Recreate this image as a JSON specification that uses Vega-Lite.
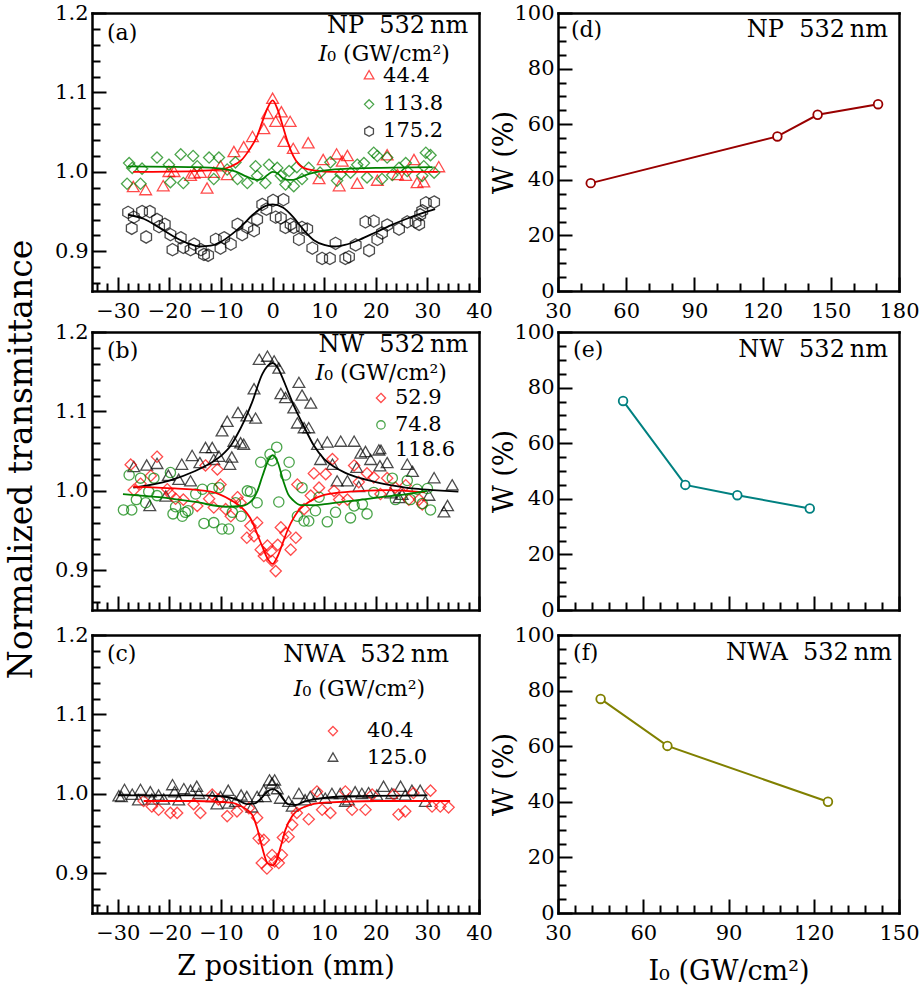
{
"$schema":"https://vega.github.io/schema/vega-lite/v6.json",
"padding":{"left":4,"top":2,"right":5,"bottom":5},
"background":"white",
"columns":2,
"spacing":{"row":25,"column":79},
"bounds":"flush",
"align":"each",
"datasets":{
"pts":[
{"p":"a","s":"44.4","z":-27.0,"t":0.980},{"p":"a","s":"44.4","z":-24.6,"t":0.976},{"p":"a","s":"44.4","z":-21.2,"t":0.981},{"p":"a","s":"44.4","z":-20.1,"t":0.999},{"p":"a","s":"44.4","z":-19.1,"t":0.999},{"p":"a","s":"44.4","z":-15.9,"t":0.994},{"p":"a","s":"44.4","z":-15.2,"t":0.997},{"p":"a","s":"44.4","z":-14.0,"t":0.998},{"p":"a","s":"44.4","z":-12.7,"t":0.978},{"p":"a","s":"44.4","z":-11.4,"t":0.998},{"p":"a","s":"44.4","z":-10.1,"t":1.006},{"p":"a","s":"44.4","z":-8.8,"t":0.995},{"p":"a","s":"44.4","z":-7.5,"t":1.024},{"p":"a","s":"44.4","z":-5.6,"t":1.030},{"p":"a","s":"44.4","z":-3.9,"t":1.043},{"p":"a","s":"44.4","z":-1.7,"t":1.053},{"p":"a","s":"44.4","z":-1.0,"t":1.072},{"p":"a","s":"44.4","z":0.0,"t":1.091},{"p":"a","s":"44.4","z":0.6,"t":1.062},{"p":"a","s":"44.4","z":1.7,"t":1.074},{"p":"a","s":"44.4","z":2.2,"t":1.037},{"p":"a","s":"44.4","z":3.4,"t":1.062},{"p":"a","s":"44.4","z":4.0,"t":1.028},{"p":"a","s":"44.4","z":6.9,"t":1.035},{"p":"a","s":"44.4","z":9.0,"t":0.990},{"p":"a","s":"44.4","z":9.8,"t":1.014},{"p":"a","s":"44.4","z":12.4,"t":1.021},{"p":"a","s":"44.4","z":12.9,"t":0.981},{"p":"a","s":"44.4","z":13.5,"t":1.012},{"p":"a","s":"44.4","z":14.5,"t":1.019},{"p":"a","s":"44.4","z":16.4,"t":0.984},{"p":"a","s":"44.4","z":20.3,"t":0.988},{"p":"a","s":"44.4","z":22.2,"t":1.020},{"p":"a","s":"44.4","z":24.2,"t":0.995},{"p":"a","s":"44.4","z":25.8,"t":0.994},{"p":"a","s":"44.4","z":27.4,"t":1.014},{"p":"a","s":"44.4","z":28.0,"t":0.985},{"p":"a","s":"44.4","z":29.3,"t":0.986},{"p":"a","s":"44.4","z":32.2,"t":1.005},
{"p":"a","s":"113.8","z":-28.2,"t":0.985},{"p":"a","s":"113.8","z":-27.8,"t":1.011},{"p":"a","s":"113.8","z":-27.2,"t":1.005},{"p":"a","s":"113.8","z":-25.6,"t":0.985},{"p":"a","s":"113.8","z":-25.3,"t":1.004},{"p":"a","s":"113.8","z":-22.4,"t":1.018},{"p":"a","s":"113.8","z":-20.1,"t":1.009},{"p":"a","s":"113.8","z":-19.8,"t":0.987},{"p":"a","s":"113.8","z":-17.8,"t":1.022},{"p":"a","s":"113.8","z":-17.3,"t":0.986},{"p":"a","s":"113.8","z":-15.4,"t":1.020},{"p":"a","s":"113.8","z":-14.6,"t":1.007},{"p":"a","s":"113.8","z":-12.3,"t":1.018},{"p":"a","s":"113.8","z":-11.4,"t":0.991},{"p":"a","s":"113.8","z":-10.4,"t":1.018},{"p":"a","s":"113.8","z":-8.8,"t":1.003},{"p":"a","s":"113.8","z":-7.2,"t":1.012},{"p":"a","s":"113.8","z":-6.8,"t":0.991},{"p":"a","s":"113.8","z":-4.9,"t":0.986},{"p":"a","s":"113.8","z":-3.3,"t":1.007},{"p":"a","s":"113.8","z":-3.0,"t":0.995},{"p":"a","s":"113.8","z":-1.4,"t":0.986},{"p":"a","s":"113.8","z":-0.7,"t":1.009},{"p":"a","s":"113.8","z":0.9,"t":1.005},{"p":"a","s":"113.8","z":1.6,"t":0.995},{"p":"a","s":"113.8","z":2.5,"t":0.984},{"p":"a","s":"113.8","z":3.2,"t":1.001},{"p":"a","s":"113.8","z":4.1,"t":0.982},{"p":"a","s":"113.8","z":4.7,"t":1.006},{"p":"a","s":"113.8","z":5.7,"t":0.991},{"p":"a","s":"113.8","z":7.0,"t":1.005},{"p":"a","s":"113.8","z":9.2,"t":0.999},{"p":"a","s":"113.8","z":11.2,"t":1.012},{"p":"a","s":"113.8","z":12.5,"t":0.989},{"p":"a","s":"113.8","z":13.2,"t":0.997},{"p":"a","s":"113.8","z":15.1,"t":0.999},{"p":"a","s":"113.8","z":16.4,"t":1.009},{"p":"a","s":"113.8","z":17.7,"t":1.011},{"p":"a","s":"113.8","z":18.3,"t":0.993},{"p":"a","s":"113.8","z":19.6,"t":1.024},{"p":"a","s":"113.8","z":20.3,"t":1.020},{"p":"a","s":"113.8","z":21.2,"t":0.991},{"p":"a","s":"113.8","z":22.2,"t":1.018},{"p":"a","s":"113.8","z":23.2,"t":0.996},{"p":"a","s":"113.8","z":24.5,"t":1.005},{"p":"a","s":"113.8","z":25.8,"t":1.011},{"p":"a","s":"113.8","z":26.1,"t":1.001},{"p":"a","s":"113.8","z":29.0,"t":0.995},{"p":"a","s":"113.8","z":29.3,"t":1.007},{"p":"a","s":"113.8","z":29.7,"t":1.024},{"p":"a","s":"113.8","z":30.6,"t":1.021},{"p":"a","s":"113.8","z":31.3,"t":0.999},
{"p":"a","s":"175.2","z":-28.0,"t":0.949},{"p":"a","s":"175.2","z":-27.3,"t":0.929},{"p":"a","s":"175.2","z":-26.9,"t":0.943},{"p":"a","s":"175.2","z":-25.3,"t":0.950},{"p":"a","s":"175.2","z":-24.5,"t":0.918},{"p":"a","s":"175.2","z":-23.8,"t":0.950},{"p":"a","s":"175.2","z":-22.4,"t":0.940},{"p":"a","s":"175.2","z":-22.0,"t":0.931},{"p":"a","s":"175.2","z":-20.9,"t":0.934},{"p":"a","s":"175.2","z":-19.8,"t":0.921},{"p":"a","s":"175.2","z":-19.4,"t":0.902},{"p":"a","s":"175.2","z":-17.8,"t":0.917},{"p":"a","s":"175.2","z":-17.3,"t":0.905},{"p":"a","s":"175.2","z":-15.9,"t":0.902},{"p":"a","s":"175.2","z":-15.2,"t":0.909},{"p":"a","s":"175.2","z":-13.9,"t":0.902},{"p":"a","s":"175.2","z":-13.3,"t":0.896},{"p":"a","s":"175.2","z":-12.5,"t":0.895},{"p":"a","s":"175.2","z":-11.0,"t":0.915},{"p":"a","s":"175.2","z":-10.1,"t":0.904},{"p":"a","s":"175.2","z":-9.4,"t":0.917},{"p":"a","s":"175.2","z":-8.1,"t":0.909},{"p":"a","s":"175.2","z":-6.8,"t":0.934},{"p":"a","s":"175.2","z":-5.9,"t":0.921},{"p":"a","s":"175.2","z":-4.9,"t":0.930},{"p":"a","s":"175.2","z":-3.6,"t":0.926},{"p":"a","s":"175.2","z":-3.0,"t":0.940},{"p":"a","s":"175.2","z":-2.0,"t":0.959},{"p":"a","s":"175.2","z":-1.2,"t":0.953},{"p":"a","s":"175.2","z":0.1,"t":0.964},{"p":"a","s":"175.2","z":0.6,"t":0.943},{"p":"a","s":"175.2","z":1.6,"t":0.942},{"p":"a","s":"175.2","z":2.1,"t":0.965},{"p":"a","s":"175.2","z":2.5,"t":0.930},{"p":"a","s":"175.2","z":3.5,"t":0.934},{"p":"a","s":"175.2","z":4.1,"t":0.930},{"p":"a","s":"175.2","z":5.1,"t":0.915},{"p":"a","s":"175.2","z":5.7,"t":0.930},{"p":"a","s":"175.2","z":6.7,"t":0.928},{"p":"a","s":"175.2","z":7.7,"t":0.904},{"p":"a","s":"175.2","z":9.6,"t":0.891},{"p":"a","s":"175.2","z":11.1,"t":0.891},{"p":"a","s":"175.2","z":12.2,"t":0.910},{"p":"a","s":"175.2","z":14.1,"t":0.891},{"p":"a","s":"175.2","z":14.8,"t":0.893},{"p":"a","s":"175.2","z":16.1,"t":0.908},{"p":"a","s":"175.2","z":18.0,"t":0.937},{"p":"a","s":"175.2","z":18.7,"t":0.901},{"p":"a","s":"175.2","z":19.6,"t":0.938},{"p":"a","s":"175.2","z":20.3,"t":0.915},{"p":"a","s":"175.2","z":21.2,"t":0.923},{"p":"a","s":"175.2","z":22.2,"t":0.933},{"p":"a","s":"175.2","z":24.5,"t":0.928},{"p":"a","s":"175.2","z":26.1,"t":0.937},{"p":"a","s":"175.2","z":27.7,"t":0.937},{"p":"a","s":"175.2","z":28.4,"t":0.934},{"p":"a","s":"175.2","z":28.6,"t":0.946},{"p":"a","s":"175.2","z":29.0,"t":0.951},{"p":"a","s":"175.2","z":29.7,"t":0.961},{"p":"a","s":"175.2","z":31.3,"t":0.962},
{"p":"b","s":"118.6","z":-26.9,"t":1.029},{"p":"b","s":"118.6","z":-24.4,"t":1.031},{"p":"b","s":"118.6","z":-23.8,"t":0.980},{"p":"b","s":"118.6","z":-22.4,"t":1.033},{"p":"b","s":"118.6","z":-20.7,"t":0.992},{"p":"b","s":"118.6","z":-20.2,"t":1.018},{"p":"b","s":"118.6","z":-18.2,"t":1.013},{"p":"b","s":"118.6","z":-17.6,"t":1.032},{"p":"b","s":"118.6","z":-15.9,"t":1.011},{"p":"b","s":"118.6","z":-15.6,"t":1.043},{"p":"b","s":"118.6","z":-14.1,"t":1.034},{"p":"b","s":"118.6","z":-13.0,"t":1.053},{"p":"b","s":"118.6","z":-11.7,"t":1.053},{"p":"b","s":"118.6","z":-11.4,"t":1.038},{"p":"b","s":"118.6","z":-10.4,"t":1.042},{"p":"b","s":"118.6","z":-9.8,"t":1.074},{"p":"b","s":"118.6","z":-8.8,"t":1.086},{"p":"b","s":"118.6","z":-8.3,"t":1.032},{"p":"b","s":"118.6","z":-7.9,"t":1.041},{"p":"b","s":"118.6","z":-7.5,"t":1.061},{"p":"b","s":"118.6","z":-6.7,"t":1.097},{"p":"b","s":"118.6","z":-6.2,"t":1.059},{"p":"b","s":"118.6","z":-5.6,"t":1.057},{"p":"b","s":"118.6","z":-5.0,"t":1.093},{"p":"b","s":"118.6","z":-3.3,"t":1.090},{"p":"b","s":"118.6","z":-3.6,"t":1.127},{"p":"b","s":"118.6","z":-2.6,"t":1.164},{"p":"b","s":"118.6","z":-1.0,"t":1.168},{"p":"b","s":"118.6","z":0.3,"t":1.162},{"p":"b","s":"118.6","z":1.2,"t":1.153},{"p":"b","s":"118.6","z":1.6,"t":1.121},{"p":"b","s":"118.6","z":2.5,"t":1.116},{"p":"b","s":"118.6","z":4.1,"t":1.103},{"p":"b","s":"118.6","z":4.8,"t":1.084},{"p":"b","s":"118.6","z":5.1,"t":1.135},{"p":"b","s":"118.6","z":5.7,"t":1.119},{"p":"b","s":"118.6","z":6.1,"t":1.078},{"p":"b","s":"118.6","z":7.0,"t":1.078},{"p":"b","s":"118.6","z":7.4,"t":1.109},{"p":"b","s":"118.6","z":8.7,"t":1.057},{"p":"b","s":"118.6","z":9.3,"t":1.038},{"p":"b","s":"118.6","z":10.6,"t":1.060},{"p":"b","s":"118.6","z":11.6,"t":1.032},{"p":"b","s":"118.6","z":12.5,"t":1.011},{"p":"b","s":"118.6","z":13.2,"t":1.061},{"p":"b","s":"118.6","z":14.5,"t":1.011},{"p":"b","s":"118.6","z":15.8,"t":1.061},{"p":"b","s":"118.6","z":16.3,"t":1.028},{"p":"b","s":"118.6","z":16.7,"t":1.004},{"p":"b","s":"118.6","z":17.1,"t":1.046},{"p":"b","s":"118.6","z":18.0,"t":1.048},{"p":"b","s":"118.6","z":19.0,"t":1.038},{"p":"b","s":"118.6","z":20.6,"t":1.050},{"p":"b","s":"118.6","z":20.8,"t":1.030},{"p":"b","s":"118.6","z":22.2,"t":1.034},{"p":"b","s":"118.6","z":22.9,"t":0.996},{"p":"b","s":"118.6","z":24.5,"t":0.990},{"p":"b","s":"118.6","z":25.1,"t":0.994},{"p":"b","s":"118.6","z":26.1,"t":1.032},{"p":"b","s":"118.6","z":27.1,"t":1.023},{"p":"b","s":"118.6","z":30.3,"t":0.993},{"p":"b","s":"118.6","z":31.3,"t":1.015},{"p":"b","s":"118.6","z":33.2,"t":0.972},{"p":"b","s":"118.6","z":33.9,"t":0.980},{"p":"b","s":"118.6","z":34.8,"t":1.006},
{"p":"b","s":"52.9","z":-27.5,"t":1.033},{"p":"b","s":"52.9","z":-26.9,"t":1.001},{"p":"b","s":"52.9","z":-25.6,"t":1.009},{"p":"b","s":"52.9","z":-23.6,"t":1.019},{"p":"b","s":"52.9","z":-22.4,"t":1.043},{"p":"b","s":"52.9","z":-20.4,"t":1.002},{"p":"b","s":"52.9","z":-19.8,"t":0.996},{"p":"b","s":"52.9","z":-18.8,"t":0.990},{"p":"b","s":"52.9","z":-17.3,"t":0.989},{"p":"b","s":"52.9","z":-14.6,"t":0.981},{"p":"b","s":"52.9","z":-13.0,"t":1.032},{"p":"b","s":"52.9","z":-12.3,"t":0.990},{"p":"b","s":"52.9","z":-11.4,"t":0.979},{"p":"b","s":"52.9","z":-10.7,"t":1.027},{"p":"b","s":"52.9","z":-10.1,"t":1.008},{"p":"b","s":"52.9","z":-9.1,"t":0.977},{"p":"b","s":"52.9","z":-8.1,"t":0.968},{"p":"b","s":"52.9","z":-6.8,"t":0.992},{"p":"b","s":"52.9","z":-6.2,"t":0.985},{"p":"b","s":"52.9","z":-5.0,"t":0.941},{"p":"b","s":"52.9","z":-4.3,"t":0.956},{"p":"b","s":"52.9","z":-3.6,"t":0.943},{"p":"b","s":"52.9","z":-3.0,"t":0.960},{"p":"b","s":"52.9","z":-2.3,"t":0.926},{"p":"b","s":"52.9","z":-1.7,"t":0.918},{"p":"b","s":"52.9","z":-1.0,"t":0.931},{"p":"b","s":"52.9","z":-0.3,"t":0.924},{"p":"b","s":"52.9","z":-0.1,"t":0.912},{"p":"b","s":"52.9","z":0.6,"t":0.899},{"p":"b","s":"52.9","z":1.0,"t":0.932},{"p":"b","s":"52.9","z":1.6,"t":0.954},{"p":"b","s":"52.9","z":2.5,"t":0.947},{"p":"b","s":"52.9","z":3.5,"t":0.926},{"p":"b","s":"52.9","z":4.5,"t":0.941},{"p":"b","s":"52.9","z":4.8,"t":1.008},{"p":"b","s":"52.9","z":6.1,"t":0.977},{"p":"b","s":"52.9","z":7.4,"t":0.994},{"p":"b","s":"52.9","z":8.0,"t":1.022},{"p":"b","s":"52.9","z":9.0,"t":1.004},{"p":"b","s":"52.9","z":10.3,"t":1.021},{"p":"b","s":"52.9","z":11.6,"t":1.040},{"p":"b","s":"52.9","z":11.9,"t":1.000},{"p":"b","s":"52.9","z":12.9,"t":0.989},{"p":"b","s":"52.9","z":14.5,"t":0.989},{"p":"b","s":"52.9","z":15.8,"t":1.032},{"p":"b","s":"52.9","z":16.7,"t":1.011},{"p":"b","s":"52.9","z":18.3,"t":1.022},{"p":"b","s":"52.9","z":19.6,"t":1.017},{"p":"b","s":"52.9","z":20.9,"t":0.996},{"p":"b","s":"52.9","z":22.2,"t":1.016},{"p":"b","s":"52.9","z":23.8,"t":1.004},{"p":"b","s":"52.9","z":25.8,"t":1.007},{"p":"b","s":"52.9","z":26.4,"t":0.989},{"p":"b","s":"52.9","z":28.4,"t":0.989},{"p":"b","s":"52.9","z":29.0,"t":0.983},
{"p":"b","s":"74.8","z":-28.9,"t":0.976},{"p":"b","s":"74.8","z":-27.8,"t":1.020},{"p":"b","s":"74.8","z":-27.3,"t":0.976},{"p":"b","s":"74.8","z":-26.4,"t":0.989},{"p":"b","s":"74.8","z":-25.6,"t":1.016},{"p":"b","s":"74.8","z":-24.6,"t":0.985},{"p":"b","s":"74.8","z":-24.0,"t":0.999},{"p":"b","s":"74.8","z":-23.0,"t":1.016},{"p":"b","s":"74.8","z":-22.4,"t":0.994},{"p":"b","s":"74.8","z":-19.8,"t":1.023},{"p":"b","s":"74.8","z":-19.3,"t":0.971},{"p":"b","s":"74.8","z":-18.8,"t":0.980},{"p":"b","s":"74.8","z":-17.5,"t":0.968},{"p":"b","s":"74.8","z":-16.9,"t":0.973},{"p":"b","s":"74.8","z":-16.4,"t":0.975},{"p":"b","s":"74.8","z":-14.9,"t":0.996},{"p":"b","s":"74.8","z":-13.6,"t":1.002},{"p":"b","s":"74.8","z":-13.3,"t":0.959},{"p":"b","s":"74.8","z":-11.7,"t":1.003},{"p":"b","s":"74.8","z":-11.4,"t":0.960},{"p":"b","s":"74.8","z":-10.4,"t":1.004},{"p":"b","s":"74.8","z":-9.8,"t":0.952},{"p":"b","s":"74.8","z":-8.5,"t":0.952},{"p":"b","s":"74.8","z":-7.8,"t":0.973},{"p":"b","s":"74.8","z":-7.2,"t":0.985},{"p":"b","s":"74.8","z":-6.1,"t":0.968},{"p":"b","s":"74.8","z":-4.9,"t":1.000},{"p":"b","s":"74.8","z":-4.3,"t":0.999},{"p":"b","s":"74.8","z":-3.0,"t":0.985},{"p":"b","s":"74.8","z":-2.3,"t":1.036},{"p":"b","s":"74.8","z":-0.5,"t":1.046},{"p":"b","s":"74.8","z":-0.1,"t":1.038},{"p":"b","s":"74.8","z":0.8,"t":1.055},{"p":"b","s":"74.8","z":1.2,"t":0.986},{"p":"b","s":"74.8","z":2.5,"t":1.020},{"p":"b","s":"74.8","z":3.2,"t":1.036},{"p":"b","s":"74.8","z":4.8,"t":0.968},{"p":"b","s":"74.8","z":5.7,"t":1.004},{"p":"b","s":"74.8","z":6.1,"t":0.962},{"p":"b","s":"74.8","z":7.0,"t":0.962},{"p":"b","s":"74.8","z":8.3,"t":0.975},{"p":"b","s":"74.8","z":9.0,"t":0.992},{"p":"b","s":"74.8","z":10.6,"t":0.961},{"p":"b","s":"74.8","z":12.2,"t":0.973},{"p":"b","s":"74.8","z":15.1,"t":0.966},{"p":"b","s":"74.8","z":15.8,"t":0.981},{"p":"b","s":"74.8","z":17.4,"t":0.983},{"p":"b","s":"74.8","z":18.3,"t":0.971},{"p":"b","s":"74.8","z":19.6,"t":0.998},{"p":"b","s":"74.8","z":23.2,"t":1.016},{"p":"b","s":"74.8","z":23.8,"t":0.989},{"p":"b","s":"74.8","z":26.1,"t":1.013},{"p":"b","s":"74.8","z":26.7,"t":0.989},{"p":"b","s":"74.8","z":28.0,"t":1.002},{"p":"b","s":"74.8","z":29.0,"t":0.984},{"p":"b","s":"74.8","z":30.0,"t":1.003},{"p":"b","s":"74.8","z":30.6,"t":0.976},
{"p":"c","s":"125.0","z":-29.8,"t":0.996},{"p":"c","s":"125.0","z":-28.7,"t":1.004},{"p":"c","s":"125.0","z":-29.3,"t":0.995},{"p":"c","s":"125.0","z":-27.2,"t":0.998},{"p":"c","s":"125.0","z":-26.0,"t":0.991},{"p":"c","s":"125.0","z":-25.6,"t":1.004},{"p":"c","s":"125.0","z":-23.7,"t":1.001},{"p":"c","s":"125.0","z":-23.4,"t":0.992},{"p":"c","s":"125.0","z":-22.1,"t":0.997},{"p":"c","s":"125.0","z":-21.1,"t":0.992},{"p":"c","s":"125.0","z":-19.4,"t":1.010},{"p":"c","s":"125.0","z":-19.0,"t":1.001},{"p":"c","s":"125.0","z":-18.2,"t":0.991},{"p":"c","s":"125.0","z":-17.2,"t":1.005},{"p":"c","s":"125.0","z":-15.9,"t":1.003},{"p":"c","s":"125.0","z":-14.7,"t":1.008},{"p":"c","s":"125.0","z":-14.3,"t":0.999},{"p":"c","s":"125.0","z":-11.7,"t":0.995},{"p":"c","s":"125.0","z":-10.8,"t":0.986},{"p":"c","s":"125.0","z":-10.1,"t":0.995},{"p":"c","s":"125.0","z":-8.6,"t":1.003},{"p":"c","s":"125.0","z":-8.5,"t":0.987},{"p":"c","s":"125.0","z":-7.2,"t":0.989},{"p":"c","s":"125.0","z":-6.1,"t":0.997},{"p":"c","s":"125.0","z":-5.0,"t":0.995},{"p":"c","s":"125.0","z":-4.0,"t":0.982},{"p":"c","s":"125.0","z":-3.0,"t":0.995},{"p":"c","s":"125.0","z":-1.7,"t":1.003},{"p":"c","s":"125.0","z":-1.4,"t":0.995},{"p":"c","s":"125.0","z":-0.6,"t":1.016},{"p":"c","s":"125.0","z":-0.1,"t":1.012},{"p":"c","s":"125.0","z":0.4,"t":1.016},{"p":"c","s":"125.0","z":0.9,"t":1.005},{"p":"c","s":"125.0","z":1.5,"t":0.993},{"p":"c","s":"125.0","z":3.1,"t":0.989},{"p":"c","s":"125.0","z":3.8,"t":0.983},{"p":"c","s":"125.0","z":5.1,"t":0.999},{"p":"c","s":"125.0","z":6.3,"t":0.991},{"p":"c","s":"125.0","z":7.3,"t":0.995},{"p":"c","s":"125.0","z":8.9,"t":0.999},{"p":"c","s":"125.0","z":10.2,"t":0.993},{"p":"c","s":"125.0","z":11.5,"t":0.999},{"p":"c","s":"125.0","z":13.1,"t":0.999},{"p":"c","s":"125.0","z":14.1,"t":0.989},{"p":"c","s":"125.0","z":14.7,"t":0.991},{"p":"c","s":"125.0","z":16.0,"t":1.001},{"p":"c","s":"125.0","z":17.3,"t":0.999},{"p":"c","s":"125.0","z":18.6,"t":1.000},{"p":"c","s":"125.0","z":20.2,"t":0.997},{"p":"c","s":"125.0","z":21.5,"t":1.008},{"p":"c","s":"125.0","z":23.1,"t":0.999},{"p":"c","s":"125.0","z":24.8,"t":1.008},{"p":"c","s":"125.0","z":25.7,"t":0.997},{"p":"c","s":"125.0","z":27.0,"t":1.003},{"p":"c","s":"125.0","z":28.6,"t":1.003},{"p":"c","s":"125.0","z":29.6,"t":0.989},
{"p":"c","s":"40.4","z":-25.0,"t":0.991},{"p":"c","s":"40.4","z":-23.4,"t":0.984},{"p":"c","s":"40.4","z":-22.1,"t":0.980},{"p":"c","s":"40.4","z":-19.8,"t":0.976},{"p":"c","s":"40.4","z":-18.5,"t":0.976},{"p":"c","s":"40.4","z":-15.3,"t":0.987},{"p":"c","s":"40.4","z":-14.0,"t":0.976},{"p":"c","s":"40.4","z":-11.7,"t":0.999},{"p":"c","s":"40.4","z":-10.5,"t":0.993},{"p":"c","s":"40.4","z":-8.8,"t":0.972},{"p":"c","s":"40.4","z":-6.9,"t":0.978},{"p":"c","s":"40.4","z":-4.6,"t":0.982},{"p":"c","s":"40.4","z":-3.0,"t":0.970},{"p":"c","s":"40.4","z":-2.7,"t":0.944},{"p":"c","s":"40.4","z":-1.7,"t":0.942},{"p":"c","s":"40.4","z":-2.1,"t":0.913},{"p":"c","s":"40.4","z":-1.1,"t":0.906},{"p":"c","s":"40.4","z":-0.1,"t":0.923},{"p":"c","s":"40.4","z":0.4,"t":0.915},{"p":"c","s":"40.4","z":1.2,"t":0.913},{"p":"c","s":"40.4","z":1.8,"t":0.923},{"p":"c","s":"40.4","z":2.0,"t":0.945},{"p":"c","s":"40.4","z":3.1,"t":0.946},{"p":"c","s":"40.4","z":3.8,"t":0.961},{"p":"c","s":"40.4","z":4.7,"t":0.976},{"p":"c","s":"40.4","z":7.0,"t":0.968},{"p":"c","s":"40.4","z":8.6,"t":1.003},{"p":"c","s":"40.4","z":9.6,"t":0.980},{"p":"c","s":"40.4","z":11.2,"t":0.976},{"p":"c","s":"40.4","z":14.1,"t":1.003},{"p":"c","s":"40.4","z":15.4,"t":0.980},{"p":"c","s":"40.4","z":18.0,"t":0.980},{"p":"c","s":"40.4","z":19.3,"t":0.999},{"p":"c","s":"40.4","z":23.5,"t":0.999},{"p":"c","s":"40.4","z":24.4,"t":0.974},{"p":"c","s":"40.4","z":25.7,"t":0.978},{"p":"c","s":"40.4","z":27.3,"t":1.001},{"p":"c","s":"40.4","z":30.6,"t":1.004},{"p":"c","s":"40.4","z":30.9,"t":0.984},{"p":"c","s":"40.4","z":32.5,"t":0.984},{"p":"c","s":"40.4","z":34.1,"t":0.983}
],
"fit":[
{"p":"a","s":"44.4","z":-27,"t":1.000},{"p":"a","s":"44.4","z":-15,"t":1.001},{"p":"a","s":"44.4","z":-10,"t":1.003},{"p":"a","s":"44.4","z":-8,"t":1.007},{"p":"a","s":"44.4","z":-6,"t":1.015},{"p":"a","s":"44.4","z":-4.5,"t":1.028},{"p":"a","s":"44.4","z":-3,"t":1.045},{"p":"a","s":"44.4","z":-2,"t":1.063},{"p":"a","s":"44.4","z":-1,"t":1.080},{"p":"a","s":"44.4","z":0,"t":1.090},{"p":"a","s":"44.4","z":1,"t":1.078},{"p":"a","s":"44.4","z":2,"t":1.057},{"p":"a","s":"44.4","z":3,"t":1.036},{"p":"a","s":"44.4","z":4,"t":1.020},{"p":"a","s":"44.4","z":5,"t":1.010},{"p":"a","s":"44.4","z":6,"t":1.005},{"p":"a","s":"44.4","z":8,"t":1.002},{"p":"a","s":"44.4","z":12,"t":1.000},{"p":"a","s":"44.4","z":20,"t":1.000},{"p":"a","s":"44.4","z":32,"t":1.000},
{"p":"a","s":"113.8","z":-28,"t":1.007},{"p":"a","s":"113.8","z":-15,"t":1.006},{"p":"a","s":"113.8","z":-10,"t":1.004},{"p":"a","s":"113.8","z":-7,"t":1.000},{"p":"a","s":"113.8","z":-5,"t":0.994},{"p":"a","s":"113.8","z":-3,"t":0.990},{"p":"a","s":"113.8","z":-2,"t":0.991},{"p":"a","s":"113.8","z":-1,"t":0.996},{"p":"a","s":"113.8","z":0,"t":1.000},{"p":"a","s":"113.8","z":1,"t":0.998},{"p":"a","s":"113.8","z":2,"t":0.992},{"p":"a","s":"113.8","z":3,"t":0.990},{"p":"a","s":"113.8","z":4,"t":0.990},{"p":"a","s":"113.8","z":6,"t":0.995},{"p":"a","s":"113.8","z":8,"t":0.999},{"p":"a","s":"113.8","z":12,"t":1.003},{"p":"a","s":"113.8","z":20,"t":1.005},{"p":"a","s":"113.8","z":31,"t":1.006},
{"p":"a","s":"175.2","z":-28,"t":0.946},{"p":"a","s":"175.2","z":-25,"t":0.941},{"p":"a","s":"175.2","z":-22,"t":0.930},{"p":"a","s":"175.2","z":-19,"t":0.918},{"p":"a","s":"175.2","z":-16,"t":0.909},{"p":"a","s":"175.2","z":-14,"t":0.906},{"p":"a","s":"175.2","z":-12,"t":0.907},{"p":"a","s":"175.2","z":-10,"t":0.912},{"p":"a","s":"175.2","z":-8,"t":0.921},{"p":"a","s":"175.2","z":-6,"t":0.932},{"p":"a","s":"175.2","z":-4,"t":0.945},{"p":"a","s":"175.2","z":-2,"t":0.955},{"p":"a","s":"175.2","z":0,"t":0.959},{"p":"a","s":"175.2","z":2,"t":0.955},{"p":"a","s":"175.2","z":4,"t":0.943},{"p":"a","s":"175.2","z":6,"t":0.927},{"p":"a","s":"175.2","z":8,"t":0.914},{"p":"a","s":"175.2","z":10,"t":0.908},{"p":"a","s":"175.2","z":12,"t":0.906},{"p":"a","s":"175.2","z":14,"t":0.908},{"p":"a","s":"175.2","z":17,"t":0.915},{"p":"a","s":"175.2","z":20,"t":0.924},{"p":"a","s":"175.2","z":23,"t":0.933},{"p":"a","s":"175.2","z":26,"t":0.941},{"p":"a","s":"175.2","z":29,"t":0.948},{"p":"a","s":"175.2","z":31.5,"t":0.953},
{"p":"b","s":"118.6","z":-27,"t":1.004},{"p":"b","s":"118.6","z":-20,"t":1.013},{"p":"b","s":"118.6","z":-15,"t":1.025},{"p":"b","s":"118.6","z":-12,"t":1.035},{"p":"b","s":"118.6","z":-10,"t":1.044},{"p":"b","s":"118.6","z":-8,"t":1.058},{"p":"b","s":"118.6","z":-7,"t":1.069},{"p":"b","s":"118.6","z":-5.5,"t":1.088},{"p":"b","s":"118.6","z":-4,"t":1.111},{"p":"b","s":"118.6","z":-2,"t":1.147},{"p":"b","s":"118.6","z":-1,"t":1.157},{"p":"b","s":"118.6","z":0,"t":1.161},{"p":"b","s":"118.6","z":1,"t":1.155},{"p":"b","s":"118.6","z":2,"t":1.141},{"p":"b","s":"118.6","z":3,"t":1.125},{"p":"b","s":"118.6","z":4,"t":1.109},{"p":"b","s":"118.6","z":5,"t":1.095},{"p":"b","s":"118.6","z":6,"t":1.082},{"p":"b","s":"118.6","z":8,"t":1.057},{"p":"b","s":"118.6","z":10,"t":1.040},{"p":"b","s":"118.6","z":12,"t":1.030},{"p":"b","s":"118.6","z":14,"t":1.023},{"p":"b","s":"118.6","z":17,"t":1.016},{"p":"b","s":"118.6","z":20,"t":1.011},{"p":"b","s":"118.6","z":24,"t":1.006},{"p":"b","s":"118.6","z":27,"t":1.003},{"p":"b","s":"118.6","z":31,"t":1.001},{"p":"b","s":"118.6","z":36,"t":0.999},
{"p":"b","s":"52.9","z":-27,"t":1.005},{"p":"b","s":"52.9","z":-19,"t":1.003},{"p":"b","s":"52.9","z":-12,"t":0.999},{"p":"b","s":"52.9","z":-8,"t":0.988},{"p":"b","s":"52.9","z":-6,"t":0.979},{"p":"b","s":"52.9","z":-5,"t":0.972},{"p":"b","s":"52.9","z":-4,"t":0.962},{"p":"b","s":"52.9","z":-3,"t":0.946},{"p":"b","s":"52.9","z":-2,"t":0.930},{"p":"b","s":"52.9","z":-1,"t":0.915},{"p":"b","s":"52.9","z":0,"t":0.908},{"p":"b","s":"52.9","z":1,"t":0.918},{"p":"b","s":"52.9","z":2,"t":0.935},{"p":"b","s":"52.9","z":3,"t":0.952},{"p":"b","s":"52.9","z":4,"t":0.965},{"p":"b","s":"52.9","z":5,"t":0.975},{"p":"b","s":"52.9","z":7,"t":0.986},{"p":"b","s":"52.9","z":10,"t":0.995},{"p":"b","s":"52.9","z":15,"t":0.999},{"p":"b","s":"52.9","z":22,"t":1.001},{"p":"b","s":"52.9","z":29.5,"t":0.998},
{"p":"b","s":"74.8","z":-29,"t":0.996},{"p":"b","s":"74.8","z":-22,"t":0.992},{"p":"b","s":"74.8","z":-15,"t":0.986},{"p":"b","s":"74.8","z":-9,"t":0.980},{"p":"b","s":"74.8","z":-6,"t":0.981},{"p":"b","s":"74.8","z":-4,"t":0.988},{"p":"b","s":"74.8","z":-3,"t":0.999},{"p":"b","s":"74.8","z":-2,"t":1.018},{"p":"b","s":"74.8","z":-1,"t":1.036},{"p":"b","s":"74.8","z":0,"t":1.045},{"p":"b","s":"74.8","z":1,"t":1.036},{"p":"b","s":"74.8","z":2,"t":1.014},{"p":"b","s":"74.8","z":3,"t":0.996},{"p":"b","s":"74.8","z":4,"t":0.988},{"p":"b","s":"74.8","z":5.5,"t":0.982},{"p":"b","s":"74.8","z":8,"t":0.982},{"p":"b","s":"74.8","z":11,"t":0.984},{"p":"b","s":"74.8","z":16,"t":0.988},{"p":"b","s":"74.8","z":21,"t":0.992},{"p":"b","s":"74.8","z":26,"t":0.996},{"p":"b","s":"74.8","z":30,"t":1.000},
{"p":"c","s":"125.0","z":-30,"t":0.998},{"p":"c","s":"125.0","z":-15,"t":0.998},{"p":"c","s":"125.0","z":-10,"t":0.997},{"p":"c","s":"125.0","z":-7,"t":0.993},{"p":"c","s":"125.0","z":-5,"t":0.987},{"p":"c","s":"125.0","z":-3.5,"t":0.988},{"p":"c","s":"125.0","z":-2,"t":0.996},{"p":"c","s":"125.0","z":-1,"t":1.003},{"p":"c","s":"125.0","z":0,"t":1.006},{"p":"c","s":"125.0","z":1,"t":1.003},{"p":"c","s":"125.0","z":2,"t":0.994},{"p":"c","s":"125.0","z":3,"t":0.987},{"p":"c","s":"125.0","z":4.5,"t":0.986},{"p":"c","s":"125.0","z":6,"t":0.990},{"p":"c","s":"125.0","z":9,"t":0.994},{"p":"c","s":"125.0","z":15,"t":0.997},{"p":"c","s":"125.0","z":30,"t":0.998},
{"p":"c","s":"40.4","z":-25,"t":0.991},{"p":"c","s":"40.4","z":-15,"t":0.991},{"p":"c","s":"40.4","z":-8,"t":0.989},{"p":"c","s":"40.4","z":-6,"t":0.984},{"p":"c","s":"40.4","z":-4,"t":0.974},{"p":"c","s":"40.4","z":-3,"t":0.957},{"p":"c","s":"40.4","z":-2,"t":0.932},{"p":"c","s":"40.4","z":-1,"t":0.913},{"p":"c","s":"40.4","z":0,"t":0.910},{"p":"c","s":"40.4","z":0.7,"t":0.915},{"p":"c","s":"40.4","z":1.5,"t":0.932},{"p":"c","s":"40.4","z":2.5,"t":0.955},{"p":"c","s":"40.4","z":3.8,"t":0.972},{"p":"c","s":"40.4","z":6.3,"t":0.984},{"p":"c","s":"40.4","z":10,"t":0.989},{"p":"c","s":"40.4","z":20,"t":0.991},{"p":"c","s":"40.4","z":34.4,"t":0.991}
],
"leg":[
{"p":"a","s":"44.4","x":18.7,"y":1.121},{"p":"a","s":"113.8","x":18.7,"y":1.085},{"p":"a","s":"175.2","x":18.7,"y":1.051},
{"p":"b","s":"52.9","x":21,"y":1.117},{"p":"b","s":"74.8","x":21,"y":1.083},{"p":"b","s":"118.6","x":21,"y":1.051},
{"p":"c","s":"40.4","x":11.7,"y":1.079},{"p":"c","s":"125.0","x":11.7,"y":1.045}
],
"lab":[
{"p":"a","k":"L","x":-32.1,"y":1.175,"text":"(a)"},{"p":"a","k":"R","x":37.9,"y":1.184,"text":"NP\u00a0\u00a0532\u2009nm"},{"p":"a","k":"I","x":10.6,"y":1.149,"text":"I"},{"p":"a","k":"S","x":10.6,"y":1.149,"text":"\u2080 (GW/cm\u00b2)"},
{"p":"b","k":"L","x":-32.1,"y":1.176,"text":"(b)"},{"p":"b","k":"R","x":37.9,"y":1.184,"text":"NW\u00a0\u00a0532\u2009nm"},{"p":"b","k":"I","x":10.0,"y":1.148,"text":"I"},{"p":"b","k":"S","x":10.0,"y":1.148,"text":"\u2080 (GW/cm\u00b2)"},
{"p":"c","k":"L","x":-32.1,"y":1.176,"text":"(c)"},{"p":"c","k":"R","x":34.2,"y":1.175,"text":"NWA\u00a0\u00a0532\u2009nm"},{"p":"c","k":"I","x":5.8,"y":1.132,"text":"I"},{"p":"c","k":"S","x":5.8,"y":1.132,"text":"\u2080 (GW/cm\u00b2)"},
{"p":"d","k":"L","x":35.7,"y":93.9,"text":"(d)"},{"p":"d","k":"R","x":175.2,"y":93.9,"text":"NP\u00a0\u00a0532\u2009nm"},
{"p":"e","k":"L","x":35.3,"y":93.5,"text":"(e)"},{"p":"e","k":"R","x":146.1,"y":93.5,"text":"NW\u00a0\u00a0532\u2009nm"},
{"p":"f","k":"L","x":35.3,"y":93.5,"text":"(f)"},{"p":"f","k":"R","x":147.5,"y":93.5,"text":"NWA\u00a0\u00a0532\u2009nm"}
],
"w":[
{"p":"d","i":44.4,"w":38.8},{"p":"d","i":126.5,"w":55.6},{"p":"d","i":144.2,"w":63.4},{"p":"d","i":170.8,"w":67.2},
{"p":"e","i":52.9,"w":75.2},{"p":"e","i":74.8,"w":45.0},{"p":"e","i":93.1,"w":41.3},{"p":"e","i":118.6,"w":36.5},
{"p":"f","i":45.0,"w":77.0},{"p":"f","i":68.5,"w":60.1},{"p":"f","i":125.0,"w":40.0}
]
},
"concat":[
{"width":387,"height":294,"resolve":{"axis":{"x":"independent","y":"independent"}},
 "layer":[
  {"data":{"name":"pts"},"transform":[{"filter":"datum.p=='a'"}],"mark":{"type":"point","opacity":0},
   "encoding":{"x":{"field":"z","type":"quantitative","scale":{"domain":[-35,40],"nice":false,"zero":false},"axis":{"orient":"bottom","offset":-16,"values":[-30,-20,-10,0,10,20,30,40],"format":"d","title":null,"tickSize":-14,"labelPadding":23}},
               "y":{"field":"t","type":"quantitative","scale":{"domain":[0.85,1.2],"nice":false,"zero":false,"range":[278,0]},"axis":{"orient":"left","values":[0.9,1.0,1.1,1.2],"format":".1f","title":null,"tickSize":-14,"labelPadding":18}}}},
  {"data":{"name":"pts"},"transform":[{"filter":"datum.p=='a'"}],"mark":{"type":"point","opacity":0},
   "encoding":{"x":{"field":"z","type":"quantitative","axis":{"orient":"bottom","offset":-16,"values":[-34,-32,-28,-26,-24,-22,-18,-16,-14,-12,-8,-6,-4,-2,2,4,6,8,12,14,16,18,22,24,26,28,32,34,36,38],"labels":false,"domain":false,"title":null,"tickSize":-8}},
               "y":{"field":"t","type":"quantitative","axis":{"orient":"left","values":[0.86,0.88,0.92,0.94,0.96,0.98,1.02,1.04,1.06,1.08,1.12,1.14,1.16,1.18],"labels":false,"domain":false,"title":null,"tickSize":-8}}}},
  {"data":{"name":"pts"},"transform":[{"filter":"datum.p=='a'"}],"mark":{"type":"point","opacity":0},
   "encoding":{"x":{"field":"z","type":"quantitative","axis":{"orient":"top","labels":false,"ticks":false,"title":null}},
               "y":{"field":"t","type":"quantitative","axis":{"orient":"right","labels":false,"ticks":false,"title":null}}}},
  {"data":{"name":"pts"},"transform":[{"filter":"datum.p=='a'"}],"mark":{"type":"point","filled":false,"strokeWidth":1.3,"size":105},
   "encoding":{"x":{"field":"z","type":"quantitative","axis":null},"y":{"field":"t","type":"quantitative","axis":null},
     "color":{"field":"s","type":"nominal","legend":null,"scale":{"domain":["44.4","113.8","175.2","52.9","74.8","118.6","40.4","125.0"],"range":["#ff0000","#008000","#000000","#ff0000","#008000","#000000","#ff0000","#000000"]}},
     "shape":{"field":"s","type":"nominal","legend":null,"scale":{"domain":["44.4","113.8","175.2","52.9","74.8","118.6","40.4","125.0"],"range":["M0,-1.25L1.15,0.75L-1.15,0.75Z","M0,-1.1L1.1,0L0,1.1L-1.1,0Z","M0,-1.2L1.04,-0.6L1.04,0.6L0,1.2L-1.04,0.6L-1.04,-0.6Z","M0,-1.1L1.1,0L0,1.1L-1.1,0Z","circle","M0,-1.25L1.15,0.75L-1.15,0.75Z","M0,-1.1L1.1,0L0,1.1L-1.1,0Z","M0,-1.25L1.15,0.75L-1.15,0.75Z"]}}}},
  {"data":{"name":"fit"},"transform":[{"filter":"datum.p=='a'"}],"mark":{"type":"line","strokeWidth":1.8,"interpolate":"monotone"},
   "encoding":{"x":{"field":"z","type":"quantitative","axis":null},"y":{"field":"t","type":"quantitative","axis":null},
     "color":{"field":"s","type":"nominal","legend":null,"scale":{"domain":["44.4","113.8","175.2","52.9","74.8","118.6","40.4","125.0"],"range":["#ff0000","#008000","#000000","#ff0000","#008000","#000000","#ff0000","#000000"]}}}},
  {"data":{"name":"leg"},"transform":[{"filter":"datum.p=='a'"}],"mark":{"type":"point","filled":false,"strokeWidth":1.3,"size":70},
   "encoding":{"x":{"field":"x","type":"quantitative","axis":null},"y":{"field":"y","type":"quantitative","axis":null},
     "color":{"field":"s","type":"nominal","legend":null,"scale":{"domain":["44.4","113.8","175.2","52.9","74.8","118.6","40.4","125.0"],"range":["#ff0000","#008000","#000000","#ff0000","#008000","#000000","#ff0000","#000000"]}},
     "shape":{"field":"s","type":"nominal","legend":null,"scale":{"domain":["44.4","113.8","175.2","52.9","74.8","118.6","40.4","125.0"],"range":["M0,-1.25L1.15,0.75L-1.15,0.75Z","M0,-1.1L1.1,0L0,1.1L-1.1,0Z","M0,-1.2L1.04,-0.6L1.04,0.6L0,1.2L-1.04,0.6L-1.04,-0.6Z","M0,-1.1L1.1,0L0,1.1L-1.1,0Z","circle","M0,-1.25L1.15,0.75L-1.15,0.75Z","M0,-1.1L1.1,0L0,1.1L-1.1,0Z","M0,-1.25L1.15,0.75L-1.15,0.75Z"]}}}},
  {"data":{"name":"leg"},"transform":[{"filter":"datum.p=='a'"}],"mark":{"type":"text","align":"left","dx":14,"fontSize":21},
   "encoding":{"x":{"field":"x","type":"quantitative","axis":null},"y":{"field":"y","type":"quantitative","axis":null},"text":{"field":"s"}}},
  {"data":{"name":"lab"},"transform":[{"filter":"datum.p=='a' && datum.k=='L'"}],"mark":{"type":"text","align":"left"},
   "encoding":{"x":{"field":"x","type":"quantitative","axis":null},"y":{"field":"y","type":"quantitative","axis":null},"text":{"field":"text"}}},
  {"data":{"name":"lab"},"transform":[{"filter":"datum.p=='a' && datum.k=='S'"}],"mark":{"type":"text","align":"left","fontSize":22},
   "encoding":{"x":{"field":"x","type":"quantitative","axis":null},"y":{"field":"y","type":"quantitative","axis":null},"text":{"field":"text"}}},
  {"data":{"name":"lab"},"transform":[{"filter":"datum.p=='a' && datum.k=='R'"}],"mark":{"type":"text","align":"right","fontSize":24},
   "encoding":{"x":{"field":"x","type":"quantitative","axis":null},"y":{"field":"y","type":"quantitative","axis":null},"text":{"field":"text"}}},
  {"data":{"name":"lab"},"transform":[{"filter":"datum.p=='a' && datum.k=='I'"}],"mark":{"type":"text","align":"right","fontStyle":"italic","fontSize":22},
   "encoding":{"x":{"field":"x","type":"quantitative","axis":null},"y":{"field":"y","type":"quantitative","axis":null},"text":{"field":"text"}}}
 ]},
{"width":341,"height":294,"resolve":{"axis":{"x":"independent","y":"independent"}},
 "layer":[
  {"data":{"name":"w"},"transform":[{"filter":"datum.p=='d'"}],"mark":{"type":"point","opacity":0},
   "encoding":{"x":{"field":"i","type":"quantitative","scale":{"domain":[30,180],"nice":false,"zero":false},"axis":{"orient":"bottom","offset":-16,"values":[30,60,90,120,150,180],"format":"d","title":null,"tickSize":-14,"labelPadding":23}},
               "y":{"field":"w","type":"quantitative","scale":{"domain":[0,100],"nice":false,"zero":false,"range":[278,0]},"axis":{"orient":"left","values":[0,20,40,60,80,100],"format":"d","title":"W (%)","titleX":-54,"titleBaseline":"middle","titleFontSize":27,"tickSize":-14,"labelPadding":18}}}},
  {"data":{"name":"w"},"transform":[{"filter":"datum.p=='d'"}],"mark":{"type":"point","opacity":0},
   "encoding":{"x":{"field":"i","type":"quantitative","axis":{"orient":"bottom","offset":-16,"values":[40,50,70,80,100,110,130,140,160,170],"labels":false,"domain":false,"title":null,"tickSize":-8}},
               "y":{"field":"w","type":"quantitative","axis":{"orient":"left","values":[5,10,15,25,30,35,45,50,55,65,70,75,85,90,95],"labels":false,"domain":false,"title":null,"tickSize":-8}}}},
  {"data":{"name":"w"},"transform":[{"filter":"datum.p=='d'"}],"mark":{"type":"point","opacity":0},
   "encoding":{"x":{"field":"i","type":"quantitative","axis":{"orient":"top","labels":false,"ticks":false,"title":null}},
               "y":{"field":"w","type":"quantitative","axis":{"orient":"right","labels":false,"ticks":false,"title":null}}}},
  {"data":{"name":"w"},"transform":[{"filter":"datum.p=='d'"}],"mark":{"type":"line","color":"#990000","strokeWidth":2},
   "encoding":{"x":{"field":"i","type":"quantitative","axis":null},"y":{"field":"w","type":"quantitative","axis":null}}},
  {"data":{"name":"w"},"transform":[{"filter":"datum.p=='d'"}],"mark":{"type":"point","filled":true,"fill":"white","stroke":"#990000","strokeWidth":1.8,"size":75,"opacity":1},
   "encoding":{"x":{"field":"i","type":"quantitative","axis":null},"y":{"field":"w","type":"quantitative","axis":null}}},
  {"data":{"name":"lab"},"transform":[{"filter":"datum.p=='d' && datum.k=='L'"}],"mark":{"type":"text","align":"left"},
   "encoding":{"x":{"field":"x","type":"quantitative","axis":null},"y":{"field":"y","type":"quantitative","axis":null},"text":{"field":"text"}}},
  {"data":{"name":"lab"},"transform":[{"filter":"datum.p=='d' && datum.k=='R'"}],"mark":{"type":"text","align":"right","fontSize":24},
   "encoding":{"x":{"field":"x","type":"quantitative","axis":null},"y":{"field":"y","type":"quantitative","axis":null},"text":{"field":"text"}}}
 ]},
{"width":387,"height":278,"resolve":{"axis":{"x":"independent","y":"independent"}},
 "layer":[
  {"data":{"name":"pts"},"transform":[{"filter":"datum.p=='b'"}],"mark":{"type":"point","opacity":0},
   "encoding":{"x":{"field":"z","type":"quantitative","scale":{"domain":[-35,40],"nice":false,"zero":false},"axis":{"orient":"bottom","values":[-30,-20,-10,0,10,20,30,40],"labels":false,"title":null,"tickSize":-14}},
               "y":{"field":"t","type":"quantitative","scale":{"domain":[0.85,1.2],"nice":false,"zero":false},"axis":{"orient":"left","values":[0.9,1.0,1.1,1.2],"format":".1f","title":"Normalized transmittance","titleX":-71,"titleY":127,"titleAngle":270,"titleBaseline":"middle","titleAlign":"center","titleFontSize":33,"tickSize":-14,"labelPadding":18}}}},
  {"data":{"name":"pts"},"transform":[{"filter":"datum.p=='b'"}],"mark":{"type":"point","opacity":0},
   "encoding":{"x":{"field":"z","type":"quantitative","axis":{"orient":"bottom","values":[-34,-32,-28,-26,-24,-22,-18,-16,-14,-12,-8,-6,-4,-2,2,4,6,8,12,14,16,18,22,24,26,28,32,34,36,38],"labels":false,"domain":false,"title":null,"tickSize":-8}},
               "y":{"field":"t","type":"quantitative","axis":{"orient":"left","values":[0.86,0.88,0.92,0.94,0.96,0.98,1.02,1.04,1.06,1.08,1.12,1.14,1.16,1.18],"labels":false,"domain":false,"title":null,"tickSize":-8}}}},
  {"data":{"name":"pts"},"transform":[{"filter":"datum.p=='b'"}],"mark":{"type":"point","opacity":0},
   "encoding":{"x":{"field":"z","type":"quantitative","axis":{"orient":"top","labels":false,"ticks":false,"title":null}},
               "y":{"field":"t","type":"quantitative","axis":{"orient":"right","labels":false,"ticks":false,"title":null}}}},
  {"data":{"name":"pts"},"transform":[{"filter":"datum.p=='b'"}],"mark":{"type":"point","filled":false,"strokeWidth":1.3,"size":105},
   "encoding":{"x":{"field":"z","type":"quantitative","axis":null},"y":{"field":"t","type":"quantitative","axis":null},
     "color":{"field":"s","type":"nominal","legend":null,"scale":{"domain":["44.4","113.8","175.2","52.9","74.8","118.6","40.4","125.0"],"range":["#ff0000","#008000","#000000","#ff0000","#008000","#000000","#ff0000","#000000"]}},
     "shape":{"field":"s","type":"nominal","legend":null,"scale":{"domain":["44.4","113.8","175.2","52.9","74.8","118.6","40.4","125.0"],"range":["M0,-1.25L1.15,0.75L-1.15,0.75Z","M0,-1.1L1.1,0L0,1.1L-1.1,0Z","M0,-1.2L1.04,-0.6L1.04,0.6L0,1.2L-1.04,0.6L-1.04,-0.6Z","M0,-1.1L1.1,0L0,1.1L-1.1,0Z","circle","M0,-1.25L1.15,0.75L-1.15,0.75Z","M0,-1.1L1.1,0L0,1.1L-1.1,0Z","M0,-1.25L1.15,0.75L-1.15,0.75Z"]}}}},
  {"data":{"name":"fit"},"transform":[{"filter":"datum.p=='b'"}],"mark":{"type":"line","strokeWidth":1.8,"interpolate":"monotone"},
   "encoding":{"x":{"field":"z","type":"quantitative","axis":null},"y":{"field":"t","type":"quantitative","axis":null},
     "color":{"field":"s","type":"nominal","legend":null,"scale":{"domain":["44.4","113.8","175.2","52.9","74.8","118.6","40.4","125.0"],"range":["#ff0000","#008000","#000000","#ff0000","#008000","#000000","#ff0000","#000000"]}}}},
  {"data":{"name":"leg"},"transform":[{"filter":"datum.p=='b'"}],"mark":{"type":"point","filled":false,"strokeWidth":1.3,"size":70},
   "encoding":{"x":{"field":"x","type":"quantitative","axis":null},"y":{"field":"y","type":"quantitative","axis":null},
     "color":{"field":"s","type":"nominal","legend":null,"scale":{"domain":["44.4","113.8","175.2","52.9","74.8","118.6","40.4","125.0"],"range":["#ff0000","#008000","#000000","#ff0000","#008000","#000000","#ff0000","#000000"]}},
     "shape":{"field":"s","type":"nominal","legend":null,"scale":{"domain":["44.4","113.8","175.2","52.9","74.8","118.6","40.4","125.0"],"range":["M0,-1.25L1.15,0.75L-1.15,0.75Z","M0,-1.1L1.1,0L0,1.1L-1.1,0Z","M0,-1.2L1.04,-0.6L1.04,0.6L0,1.2L-1.04,0.6L-1.04,-0.6Z","M0,-1.1L1.1,0L0,1.1L-1.1,0Z","circle","M0,-1.25L1.15,0.75L-1.15,0.75Z","M0,-1.1L1.1,0L0,1.1L-1.1,0Z","M0,-1.25L1.15,0.75L-1.15,0.75Z"]}}}},
  {"data":{"name":"leg"},"transform":[{"filter":"datum.p=='b'"}],"mark":{"type":"text","align":"left","dx":14,"fontSize":21},
   "encoding":{"x":{"field":"x","type":"quantitative","axis":null},"y":{"field":"y","type":"quantitative","axis":null},"text":{"field":"s"}}},
  {"data":{"name":"lab"},"transform":[{"filter":"datum.p=='b' && datum.k=='L'"}],"mark":{"type":"text","align":"left"},
   "encoding":{"x":{"field":"x","type":"quantitative","axis":null},"y":{"field":"y","type":"quantitative","axis":null},"text":{"field":"text"}}},
  {"data":{"name":"lab"},"transform":[{"filter":"datum.p=='b' && datum.k=='S'"}],"mark":{"type":"text","align":"left","fontSize":22},
   "encoding":{"x":{"field":"x","type":"quantitative","axis":null},"y":{"field":"y","type":"quantitative","axis":null},"text":{"field":"text"}}},
  {"data":{"name":"lab"},"transform":[{"filter":"datum.p=='b' && datum.k=='R'"}],"mark":{"type":"text","align":"right","fontSize":24},
   "encoding":{"x":{"field":"x","type":"quantitative","axis":null},"y":{"field":"y","type":"quantitative","axis":null},"text":{"field":"text"}}},
  {"data":{"name":"lab"},"transform":[{"filter":"datum.p=='b' && datum.k=='I'"}],"mark":{"type":"text","align":"right","fontStyle":"italic","fontSize":22},
   "encoding":{"x":{"field":"x","type":"quantitative","axis":null},"y":{"field":"y","type":"quantitative","axis":null},"text":{"field":"text"}}}
 ]},
{"width":341,"height":278,"resolve":{"axis":{"x":"independent","y":"independent"}},
 "layer":[
  {"data":{"name":"w"},"transform":[{"filter":"datum.p=='e'"}],"mark":{"type":"point","opacity":0},
   "encoding":{"x":{"field":"i","type":"quantitative","scale":{"domain":[30,150],"nice":false,"zero":false},"axis":{"orient":"bottom","values":[30,60,90,120,150],"labels":false,"title":null,"tickSize":-14}},
               "y":{"field":"w","type":"quantitative","scale":{"domain":[0,100],"nice":false,"zero":false},"axis":{"orient":"left","values":[0,20,40,60,80,100],"format":"d","title":"W (%)","titleX":-54,"titleBaseline":"middle","titleFontSize":27,"tickSize":-14,"labelPadding":18}}}},
  {"data":{"name":"w"},"transform":[{"filter":"datum.p=='e'"}],"mark":{"type":"point","opacity":0},
   "encoding":{"x":{"field":"i","type":"quantitative","axis":{"orient":"bottom","values":[36,42,48,54,66,72,78,84,96,102,108,114,126,132,138,144],"labels":false,"domain":false,"title":null,"tickSize":-8}},
               "y":{"field":"w","type":"quantitative","axis":{"orient":"left","values":[5,10,15,25,30,35,45,50,55,65,70,75,85,90,95],"labels":false,"domain":false,"title":null,"tickSize":-8}}}},
  {"data":{"name":"w"},"transform":[{"filter":"datum.p=='e'"}],"mark":{"type":"point","opacity":0},
   "encoding":{"x":{"field":"i","type":"quantitative","axis":{"orient":"top","labels":false,"ticks":false,"title":null}},
               "y":{"field":"w","type":"quantitative","axis":{"orient":"right","labels":false,"ticks":false,"title":null}}}},
  {"data":{"name":"w"},"transform":[{"filter":"datum.p=='e'"}],"mark":{"type":"line","color":"#008080","strokeWidth":2},
   "encoding":{"x":{"field":"i","type":"quantitative","axis":null},"y":{"field":"w","type":"quantitative","axis":null}}},
  {"data":{"name":"w"},"transform":[{"filter":"datum.p=='e'"}],"mark":{"type":"point","filled":true,"fill":"white","stroke":"#008080","strokeWidth":1.8,"size":75,"opacity":1},
   "encoding":{"x":{"field":"i","type":"quantitative","axis":null},"y":{"field":"w","type":"quantitative","axis":null}}},
  {"data":{"name":"lab"},"transform":[{"filter":"datum.p=='e' && datum.k=='L'"}],"mark":{"type":"text","align":"left"},
   "encoding":{"x":{"field":"x","type":"quantitative","axis":null},"y":{"field":"y","type":"quantitative","axis":null},"text":{"field":"text"}}},
  {"data":{"name":"lab"},"transform":[{"filter":"datum.p=='e' && datum.k=='R'"}],"mark":{"type":"text","align":"right","fontSize":24},
   "encoding":{"x":{"field":"x","type":"quantitative","axis":null},"y":{"field":"y","type":"quantitative","axis":null},"text":{"field":"text"}}}
 ]},
{"width":387,"height":278,"resolve":{"axis":{"x":"independent","y":"independent"}},
 "layer":[
  {"data":{"name":"pts"},"transform":[{"filter":"datum.p=='c'"}],"mark":{"type":"point","opacity":0},
   "encoding":{"x":{"field":"z","type":"quantitative","scale":{"domain":[-35,40],"nice":false,"zero":false},"axis":{"orient":"bottom","values":[-30,-20,-10,0,10,20,30,40],"format":"d","title":"Z position (mm)","titleY":53,"titleBaseline":"middle","titleFontSize":27,"tickSize":-14,"labelPadding":23}},
               "y":{"field":"t","type":"quantitative","scale":{"domain":[0.85,1.2],"nice":false,"zero":false},"axis":{"orient":"left","values":[0.9,1.0,1.1,1.2],"format":".1f","title":null,"tickSize":-14,"labelPadding":18}}}},
  {"data":{"name":"pts"},"transform":[{"filter":"datum.p=='c'"}],"mark":{"type":"point","opacity":0},
   "encoding":{"x":{"field":"z","type":"quantitative","axis":{"orient":"bottom","values":[-34,-32,-28,-26,-24,-22,-18,-16,-14,-12,-8,-6,-4,-2,2,4,6,8,12,14,16,18,22,24,26,28,32,34,36,38],"labels":false,"domain":false,"title":null,"tickSize":-8}},
               "y":{"field":"t","type":"quantitative","axis":{"orient":"left","values":[0.86,0.88,0.92,0.94,0.96,0.98,1.02,1.04,1.06,1.08,1.12,1.14,1.16,1.18],"labels":false,"domain":false,"title":null,"tickSize":-8}}}},
  {"data":{"name":"pts"},"transform":[{"filter":"datum.p=='c'"}],"mark":{"type":"point","opacity":0},
   "encoding":{"x":{"field":"z","type":"quantitative","axis":{"orient":"top","labels":false,"ticks":false,"title":null}},
               "y":{"field":"t","type":"quantitative","axis":{"orient":"right","labels":false,"ticks":false,"title":null}}}},
  {"data":{"name":"pts"},"transform":[{"filter":"datum.p=='c'"}],"mark":{"type":"point","filled":false,"strokeWidth":1.3,"size":105},
   "encoding":{"x":{"field":"z","type":"quantitative","axis":null},"y":{"field":"t","type":"quantitative","axis":null},
     "color":{"field":"s","type":"nominal","legend":null,"scale":{"domain":["44.4","113.8","175.2","52.9","74.8","118.6","40.4","125.0"],"range":["#ff0000","#008000","#000000","#ff0000","#008000","#000000","#ff0000","#000000"]}},
     "shape":{"field":"s","type":"nominal","legend":null,"scale":{"domain":["44.4","113.8","175.2","52.9","74.8","118.6","40.4","125.0"],"range":["M0,-1.25L1.15,0.75L-1.15,0.75Z","M0,-1.1L1.1,0L0,1.1L-1.1,0Z","M0,-1.2L1.04,-0.6L1.04,0.6L0,1.2L-1.04,0.6L-1.04,-0.6Z","M0,-1.1L1.1,0L0,1.1L-1.1,0Z","circle","M0,-1.25L1.15,0.75L-1.15,0.75Z","M0,-1.1L1.1,0L0,1.1L-1.1,0Z","M0,-1.25L1.15,0.75L-1.15,0.75Z"]}}}},
  {"data":{"name":"fit"},"transform":[{"filter":"datum.p=='c'"}],"mark":{"type":"line","strokeWidth":1.8,"interpolate":"monotone"},
   "encoding":{"x":{"field":"z","type":"quantitative","axis":null},"y":{"field":"t","type":"quantitative","axis":null},
     "color":{"field":"s","type":"nominal","legend":null,"scale":{"domain":["44.4","113.8","175.2","52.9","74.8","118.6","40.4","125.0"],"range":["#ff0000","#008000","#000000","#ff0000","#008000","#000000","#ff0000","#000000"]}}}},
  {"data":{"name":"leg"},"transform":[{"filter":"datum.p=='c'"}],"mark":{"type":"point","filled":false,"strokeWidth":1.3,"size":70},
   "encoding":{"x":{"field":"x","type":"quantitative","axis":null},"y":{"field":"y","type":"quantitative","axis":null},
     "color":{"field":"s","type":"nominal","legend":null,"scale":{"domain":["44.4","113.8","175.2","52.9","74.8","118.6","40.4","125.0"],"range":["#ff0000","#008000","#000000","#ff0000","#008000","#000000","#ff0000","#000000"]}},
     "shape":{"field":"s","type":"nominal","legend":null,"scale":{"domain":["44.4","113.8","175.2","52.9","74.8","118.6","40.4","125.0"],"range":["M0,-1.25L1.15,0.75L-1.15,0.75Z","M0,-1.1L1.1,0L0,1.1L-1.1,0Z","M0,-1.2L1.04,-0.6L1.04,0.6L0,1.2L-1.04,0.6L-1.04,-0.6Z","M0,-1.1L1.1,0L0,1.1L-1.1,0Z","circle","M0,-1.25L1.15,0.75L-1.15,0.75Z","M0,-1.1L1.1,0L0,1.1L-1.1,0Z","M0,-1.25L1.15,0.75L-1.15,0.75Z"]}}}},
  {"data":{"name":"leg"},"transform":[{"filter":"datum.p=='c'"}],"mark":{"type":"text","align":"left","dx":34,"fontSize":21},
   "encoding":{"x":{"field":"x","type":"quantitative","axis":null},"y":{"field":"y","type":"quantitative","axis":null},"text":{"field":"s"}}},
  {"data":{"name":"lab"},"transform":[{"filter":"datum.p=='c' && datum.k=='L'"}],"mark":{"type":"text","align":"left"},
   "encoding":{"x":{"field":"x","type":"quantitative","axis":null},"y":{"field":"y","type":"quantitative","axis":null},"text":{"field":"text"}}},
  {"data":{"name":"lab"},"transform":[{"filter":"datum.p=='c' && datum.k=='S'"}],"mark":{"type":"text","align":"left","fontSize":22},
   "encoding":{"x":{"field":"x","type":"quantitative","axis":null},"y":{"field":"y","type":"quantitative","axis":null},"text":{"field":"text"}}},
  {"data":{"name":"lab"},"transform":[{"filter":"datum.p=='c' && datum.k=='R'"}],"mark":{"type":"text","align":"right","fontSize":24},
   "encoding":{"x":{"field":"x","type":"quantitative","axis":null},"y":{"field":"y","type":"quantitative","axis":null},"text":{"field":"text"}}},
  {"data":{"name":"lab"},"transform":[{"filter":"datum.p=='c' && datum.k=='I'"}],"mark":{"type":"text","align":"right","fontStyle":"italic","fontSize":22},
   "encoding":{"x":{"field":"x","type":"quantitative","axis":null},"y":{"field":"y","type":"quantitative","axis":null},"text":{"field":"text"}}}
 ]},
{"width":341,"height":278,"resolve":{"axis":{"x":"independent","y":"independent"}},
 "layer":[
  {"data":{"name":"w"},"transform":[{"filter":"datum.p=='f'"}],"mark":{"type":"point","opacity":0},
   "encoding":{"x":{"field":"i","type":"quantitative","scale":{"domain":[30,150],"nice":false,"zero":false},"axis":{"orient":"bottom","values":[30,60,90,120,150],"format":"d","title":"I\u2080 (GW/cm\u00b2)","titleY":58,"titleBaseline":"middle","titleFontSize":27,"tickSize":-14,"labelPadding":23}},
               "y":{"field":"w","type":"quantitative","scale":{"domain":[0,100],"nice":false,"zero":false},"axis":{"orient":"left","values":[0,20,40,60,80,100],"format":"d","title":"W (%)","titleX":-54,"titleBaseline":"middle","titleFontSize":27,"tickSize":-14,"labelPadding":18}}}},
  {"data":{"name":"w"},"transform":[{"filter":"datum.p=='f'"}],"mark":{"type":"point","opacity":0},
   "encoding":{"x":{"field":"i","type":"quantitative","axis":{"orient":"bottom","values":[36,42,48,54,66,72,78,84,96,102,108,114,126,132,138,144],"labels":false,"domain":false,"title":null,"tickSize":-8}},
               "y":{"field":"w","type":"quantitative","axis":{"orient":"left","values":[5,10,15,25,30,35,45,50,55,65,70,75,85,90,95],"labels":false,"domain":false,"title":null,"tickSize":-8}}}},
  {"data":{"name":"w"},"transform":[{"filter":"datum.p=='f'"}],"mark":{"type":"point","opacity":0},
   "encoding":{"x":{"field":"i","type":"quantitative","axis":{"orient":"top","labels":false,"ticks":false,"title":null}},
               "y":{"field":"w","type":"quantitative","axis":{"orient":"right","labels":false,"ticks":false,"title":null}}}},
  {"data":{"name":"w"},"transform":[{"filter":"datum.p=='f'"}],"mark":{"type":"line","color":"#808000","strokeWidth":2},
   "encoding":{"x":{"field":"i","type":"quantitative","axis":null},"y":{"field":"w","type":"quantitative","axis":null}}},
  {"data":{"name":"w"},"transform":[{"filter":"datum.p=='f'"}],"mark":{"type":"point","filled":true,"fill":"white","stroke":"#808000","strokeWidth":1.8,"size":75,"opacity":1},
   "encoding":{"x":{"field":"i","type":"quantitative","axis":null},"y":{"field":"w","type":"quantitative","axis":null}}},
  {"data":{"name":"lab"},"transform":[{"filter":"datum.p=='f' && datum.k=='L'"}],"mark":{"type":"text","align":"left"},
   "encoding":{"x":{"field":"x","type":"quantitative","axis":null},"y":{"field":"y","type":"quantitative","axis":null},"text":{"field":"text"}}},
  {"data":{"name":"lab"},"transform":[{"filter":"datum.p=='f' && datum.k=='R'"}],"mark":{"type":"text","align":"right","fontSize":24},
   "encoding":{"x":{"field":"x","type":"quantitative","axis":null},"y":{"field":"y","type":"quantitative","axis":null},"text":{"field":"text"}}}
 ]}
],
"config":{
 "view":{"stroke":null},
 "font":"DejaVu Serif",
 "axis":{"labelFont":"DejaVu Serif","titleFont":"DejaVu Serif","labelFontSize":21,"labelColor":"#000000","titleColor":"#000000","titleFontWeight":"normal","domainColor":"#000000","domainWidth":2.5,"domainCap":"square","tickColor":"#000000","tickWidth":2,"grid":false,"labelFlush":false,"labelOverlap":false},
 "text":{"font":"DejaVu Serif","fontSize":22,"baseline":"middle","color":"#000000"}
}
}
